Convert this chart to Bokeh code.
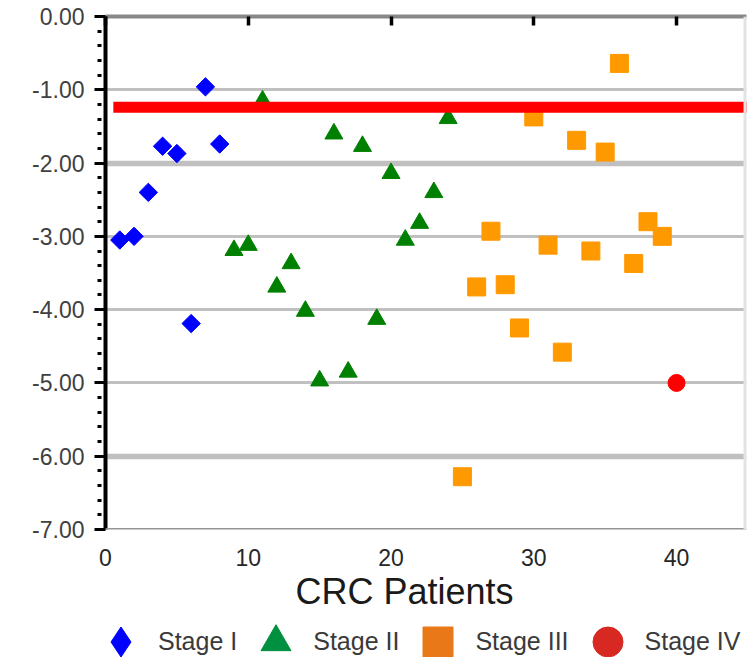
import math
import numpy as np
from bokeh.plotting import figure
from bokeh.layouts import column
from bokeh.models import (Range1d, LinearAxis, FixedTicker, PrintfTickFormatter, Grid,
                          Span, Legend, LegendItem, ColumnDataSource, Title)
from bokeh.embed import file_html
from bokeh.resources import INLINE

# ---- data ----
stage1_x = [1, 2, 3, 4, 5, 6, 7, 8]
stage1_y = [-3.05, -3.00, -2.40, -1.77, -1.87, -4.19, -0.96, -1.74]

stage2_x = [9, 10, 11, 12, 13, 14, 15, 16, 17, 18, 19, 20, 21, 22, 23, 24]
stage2_y = [-3.19, -3.12, -1.15, -3.69, -3.37, -4.02, -4.97, -1.60,
            -4.85, -1.77, -4.13, -2.14, -3.05, -2.82, -2.40, -1.39]

stage3_x = [25, 26, 27, 28, 29, 30, 31, 32, 33, 34, 35, 36, 37, 38, 39]
stage3_y = [-6.28, -3.69, -2.93, -3.66, -4.25, -1.37, -3.12, -4.58,
            -1.69, -3.20, -1.85, -0.64, -3.37, -2.80, -3.00]

stage4_x = [40]
stage4_y = [-5.00]

threshold_y = -1.24
threshold_x = [0.55, 46]

series_labels = ["Stage I", "Stage II", "Stage III", "Stage IV"]
x_title = "CRC Patients"
x_ticks = [0, 10, 20, 30, 40]
y_ticks = [-7, -6, -5, -4, -3, -2, -1, 0]
y_minor_ticks = [round(-7 + 0.2 * i, 1) for i in range(36) if i % 5 != 0]
thin_grid = [-1, -3, -4, -5]
thick_grid = [-2, -6]

FONT = "Liberation Sans"

p = figure(width=748, height=619,
           x_range=Range1d(0, 44.9), y_range=Range1d(-7, 0),
           output_backend="svg", toolbar_location=None,
           min_border_left=105, min_border_right=2,
           min_border_top=16, min_border_bottom=90)
p.outline_line_color = None
p.background_fill_color = "white"
p.border_fill_color = "white"

# grids
p.xgrid.visible = False
p.ygrid.ticker = FixedTicker(ticks=thin_grid)
p.ygrid.grid_line_color = "#c0c0c0"
p.ygrid.grid_line_width = 3
p.add_layout(Grid(dimension=1, ticker=FixedTicker(ticks=thick_grid),
                  grid_line_color="#c0c0c0", grid_line_width=5.5))

# frame lines
p.add_layout(Span(location=-7, dimension="width", line_color="#959595", line_width=3))
p.add_layout(Span(location=44.9, dimension="height", line_color="#e3e3e3", line_width=6))

# y axis
ya = p.yaxis[0]
ya.ticker = FixedTicker(ticks=y_ticks, minor_ticks=y_minor_ticks)
ya.formatter = PrintfTickFormatter(format="%.2f")
ya.axis_line_color = "black"
ya.axis_line_width = 4
ya.major_tick_line_color = "black"
ya.major_tick_line_width = 3
ya.major_tick_out = 11
ya.major_tick_in = 0
ya.minor_tick_line_color = "black"
ya.minor_tick_line_width = 3
ya.minor_tick_out = 8
ya.minor_tick_in = -4
ya.major_label_text_font = FONT
ya.major_label_text_font_size = "23px"
ya.major_label_text_color = "#404040"
ya.major_label_standoff = 10

# x axis (bottom)
xa = p.xaxis[0]
xa.ticker = FixedTicker(ticks=x_ticks)
xa.axis_line_color = None
xa.major_tick_line_color = None
xa.minor_tick_line_color = None
xa.major_label_text_font = FONT
xa.major_label_text_font_size = "23px"
xa.major_label_text_color = "#262626"
xa.major_label_standoff = 13

# x title below the axis, shifted left like the reference
p.add_layout(Title(text=x_title, align="left", offset=190,
                   text_font=FONT, text_font_size="36px", text_font_style="normal",
                   text_color="#1a1a1a", standoff=0), "below")

# top axis: gray border with inward black ticks
ta = LinearAxis(ticker=FixedTicker(ticks=x_ticks))
ta.axis_line_color = "#888888"
ta.axis_line_width = 4
ta.major_tick_line_color = "black"
ta.major_tick_line_width = 3.5
ta.major_tick_in = 9
ta.major_tick_out = 0
ta.minor_tick_line_color = None
ta.major_label_text_font_size = "1px"
ta.major_label_text_color = None
ta.major_label_standoff = 0
p.add_layout(ta, "above")

# data points
p.scatter(stage1_x, stage1_y, marker="square", angle=math.pi / 4, size=13,
          fill_color="#0000ff", line_color="#0000ff")
p.scatter(stage2_x, stage2_y, marker="triangle", size=18,
          fill_color="#008000", line_color="#008000")
p.scatter(stage3_x, stage3_y, marker="square", size=18,
          fill_color="#ff9900", line_color="#ff9900")
p.scatter(stage4_x, stage4_y, marker="circle", size=17,
          fill_color="#ff0000", line_color="#ff0000")

# threshold line
p.line(threshold_x, [threshold_y, threshold_y], line_color="#ff0000", line_width=11)

# ---- legend strip below the chart ----
lf = figure(width=748, height=38, x_range=Range1d(0, 1), y_range=Range1d(0, 1),
            output_backend="svg", toolbar_location=None,
            min_border=0, min_border_left=0, min_border_right=0,
            min_border_top=0, min_border_bottom=0)
lf.axis.visible = False
lf.grid.visible = False
lf.outline_line_color = None
lf.background_fill_color = "white"
lf.border_fill_color = "white"

nan_src = dict(x=[np.nan], y=[np.nan])
lg1 = lf.scatter("x", "y", source=ColumnDataSource(nan_src), marker="diamond",
                 size=10, fill_color="#0000ff", line_color="#0000ff")
lg2 = lf.scatter("x", "y", source=ColumnDataSource(nan_src), marker="triangle",
                 size=10, fill_color="#009040", line_color="#009040")
lg3 = lf.scatter("x", "y", source=ColumnDataSource(nan_src), marker="square",
                 size=10, fill_color="#e87818", line_color="#e87818")
lg4 = lf.scatter("x", "y", source=ColumnDataSource(nan_src), marker="circle",
                 size=10, fill_color="#d82822", line_color="#d82822")

legend = Legend(items=[LegendItem(label=series_labels[0], renderers=[lg1]),
                       LegendItem(label=series_labels[1], renderers=[lg2]),
                       LegendItem(label=series_labels[2], renderers=[lg3]),
                       LegendItem(label=series_labels[3], renderers=[lg4])],
                orientation="horizontal", location=(-22, -22),
                glyph_width=75, glyph_height=75, label_standoff=0, spacing=1,
                padding=0, margin=0, border_line_color=None,
                background_fill_alpha=0,
                label_text_font=FONT, label_text_font_size="25px",
                label_text_color="#3a3a3a")
lf.add_layout(legend)

layout = column(p, lf, spacing=0)
open("out.html", "w").write(file_html(layout, INLINE))
